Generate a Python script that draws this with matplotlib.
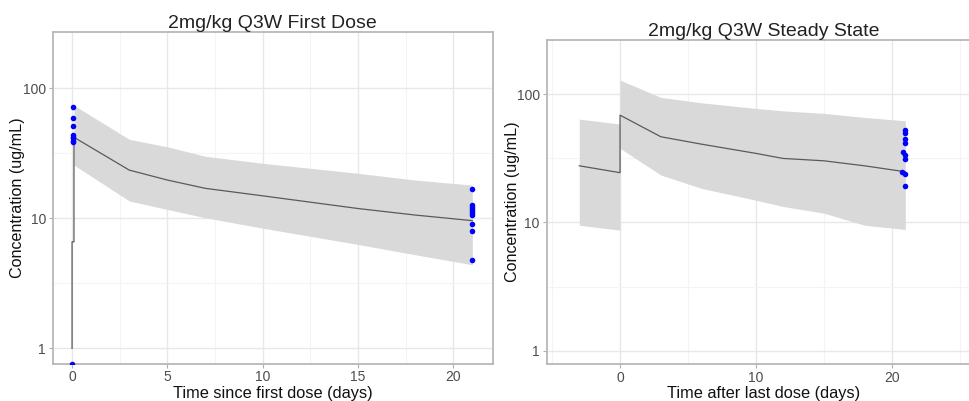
import numpy as np
import matplotlib
matplotlib.use("Agg")
import matplotlib.pyplot as plt
from matplotlib.ticker import FixedLocator, NullFormatter

plt.rcParams['font.family'] = ['Liberation Sans', 'DejaVu Sans']

# ---- first dose panel ----
fd_med_time = [0, 0, 0.1, 0.1, 3, 5, 7, 10, 15, 18, 21]
fd_med_conc = [1.0, 6.6, 6.6, 42, 23.5, 19.7, 17.0, 14.9, 11.9, 10.6, 9.6]
fd_band_time = [0.1, 3, 5, 7, 10, 15, 18, 21]
fd_band_lo = [25.7, 13.6, 11.7, 10.1, 8.4, 6.3, 5.25, 4.4]
fd_band_hi = [74, 40.5, 35.5, 30.0, 26.5, 22.2, 19.7, 18.0]
fd_obs_time = [0.05] * 8 + [0.0] + [21] * 10
fd_obs_conc = [72, 58.8, 51.5, 43.7, 42.5, 41.2, 39.5, 38.8, 0.765,
               16.8, 12.7, 12.2, 11.8, 11.4, 11.0, 10.6, 9.05, 8.0, 4.8]

# ---- steady state panel ----
ss_med_time = [-3, 0, 0, 3, 6, 10, 12, 15, 18, 21]
ss_med_conc = [27.6, 24.4, 68.5, 46.5, 40.7, 34.5, 31.5, 30.2, 27.6, 24.8]
ss_pre_time = [-3, 0]
ss_pre_lo = [9.5, 8.7]
ss_pre_hi = [63.8, 58.4]
ss_post_time = [0, 3, 6, 10, 12, 15, 18, 21]
ss_post_lo = [37.8, 23.4, 18.4, 14.9, 13.3, 11.8, 9.5, 8.8]
ss_post_hi = [128.5, 94.3, 85.5, 77.3, 74.0, 70.7, 65.8, 61.9]
ss_obs_time = [21, 21, 21, 20.95, 20.85, 21, 21, 20.75, 21, 21]
ss_obs_conc = [52.4, 49.5, 45.0, 41.5, 35.6, 33.5, 31.0, 24.8, 23.8, 19.2]

band_col = '#d9d9d9'
line_col = '#5a5a5a'
pt_col = '#0000ff'


def style(ax, xmajor, xminor):
    ax.set_yscale('log')
    ax.yaxis.set_major_locator(FixedLocator([1, 10, 100]))
    ax.yaxis.set_minor_locator(FixedLocator([3.162, 31.62]))
    ax.yaxis.set_minor_formatter(NullFormatter())
    ax.set_yticklabels(['1', '10', '100'])
    ax.xaxis.set_major_locator(FixedLocator(xmajor))
    ax.xaxis.set_minor_locator(FixedLocator(xminor))
    ax.grid(True, which='major', color='#e8e8e8', lw=1.0)
    ax.grid(True, which='minor', color='#f4f4f4', lw=0.8)
    ax.set_axisbelow(True)
    for s in ax.spines.values():
        s.set_color('#b8b8b8')
        s.set_linewidth(1.3)
    ax.tick_params(which='major', length=3, color='#b0b0b0', labelsize=10,
                   labelcolor='#4d4d4d', pad=2)
    ax.tick_params(which='minor', length=0)


fig = plt.figure(figsize=(9.69, 4.01), dpi=100)
W, H = 969, 401

ax1 = fig.add_axes([53 / W, 1 - 363.5 / H, (492.7 - 53) / W, (363.5 - 32) / H])
ax1.fill_between(fd_band_time, fd_band_lo, fd_band_hi, color=band_col, lw=0)
ax1.plot(fd_med_time, fd_med_conc, color=line_col, lw=0.9)
ax1.scatter(fd_obs_time, fd_obs_conc, s=16, color=pt_col, zorder=3, lw=0)
ax1.set_xlim(-1.0, 22.07)
ax1.set_ylim(0.765, 271)
style(ax1, [0, 5, 10, 15, 20], [2.5, 7.5, 12.5, 17.5])
ax1.set_title('2mg/kg Q3W First Dose', fontsize=14, color='#222222', pad=3)
ax1.set_xlabel('Time since first dose (days)', fontsize=11.8, labelpad=1, color='#111111')
ax1.set_ylabel('Concentration (ug/mL)', fontsize=11.6, color='#111111')
ax1.yaxis.set_label_coords(-0.063, 0.5)

ax2 = fig.add_axes([546.7 / W, 1 - 364 / H, (980 - 546.7) / W, (364 - 40) / H])
ax2.fill_between(ss_pre_time, ss_pre_lo, ss_pre_hi, color=band_col, lw=0)
ax2.fill_between(ss_post_time, ss_post_lo, ss_post_hi, color=band_col, lw=0)
ax2.plot(ss_med_time, ss_med_conc, color=line_col, lw=0.9)
ax2.scatter(ss_obs_time, ss_obs_conc, s=16, color=pt_col, zorder=3, lw=0)
ax2.set_xlim(-5.4, 26.5)
ax2.set_ylim(0.787, 264)
style(ax2, [0, 10, 20], [-5, 5, 15, 25])
ax2.set_title('2mg/kg Q3W Steady State', fontsize=14, color='#222222', pad=3)
ax2.set_xlabel('Time after last dose (days)', fontsize=11.8, labelpad=1, color='#111111')
ax2.set_ylabel('Concentration (ug/mL)', fontsize=11.6, color='#111111')
ax2.yaxis.set_label_coords(-0.062, 0.5)

fig.savefig('out.png', dpi=100)
